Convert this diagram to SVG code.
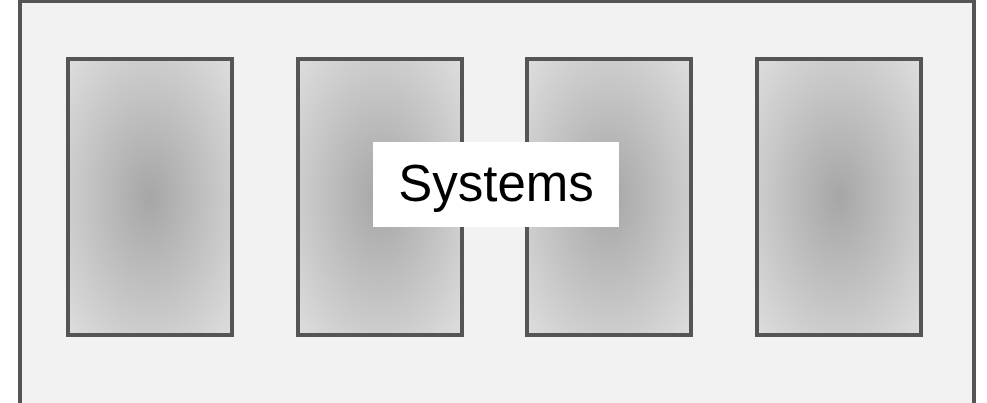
<svg xmlns="http://www.w3.org/2000/svg" width="987" height="403" viewBox="0 0 987 403">
  <defs>
    <radialGradient id="bayShade" cx="0.5" cy="0.5" r="0.71">
      <stop offset="0" stop-color="#a6a6a6"/>
      <stop offset="1" stop-color="#dedede"/>
    </radialGradient>
  </defs>
  <style>
    .frame { fill: #f2f2f2; stroke: #555555; stroke-width: 4; }
    .bay { fill: url(#bayShade); stroke: #555555; stroke-width: 4; }
    .label-box { fill: #ffffff; }
    .label { font-family: "Liberation Sans", Arial, sans-serif; font-size: 51px; fill: #000000; }
  </style>

  <g id="enclosure">
    <rect class="frame" x="20" y="1" width="954" height="430"/>
  </g>

  <g id="bay-1">
    <rect class="bay" x="68" y="59" width="164" height="276"/>
  </g>
  <g id="bay-2">
    <rect class="bay" x="298" y="59" width="164" height="276"/>
  </g>
  <g id="bay-3">
    <rect class="bay" x="527" y="59" width="164" height="276"/>
  </g>
  <g id="bay-4">
    <rect class="bay" x="757" y="59" width="164" height="276"/>
  </g>

  <g id="connectors"></g>

  <g id="systems-label">
    <rect class="label-box" x="373" y="142" width="246" height="85"/>
    <text class="label" x="496" y="201" text-anchor="middle">Systems</text>
  </g>
</svg>
